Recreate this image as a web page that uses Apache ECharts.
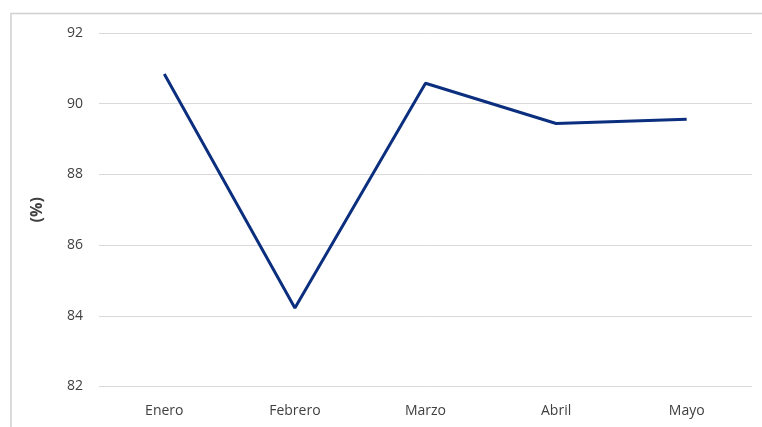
<!DOCTYPE html>
<html>
<head>
<meta charset="utf-8">
<script src="https://cdn.jsdelivr.net/npm/echarts@6/dist/echarts.min.js"></script>
<style>
  html, body { margin: 0; padding: 0; background: #fff; }
  #chart { width: 762px; height: 427px; }
</style>
</head>
<body>
<div id="chart"></div>
<script>
// Monthly percentage, January to May
const months = ['Enero', 'Febrero', 'Marzo', 'Abril', 'Mayo'];
const percentValues = [90.84, 84.22, 90.58, 89.44, 89.56];
const yTicks = { min: 82, max: 92, step: 2 };

const chart = echarts.init(document.getElementById('chart'), null, { renderer: 'canvas' });

const textFont = 'Open Sans, Noto Sans, sans-serif';

chart.setOption({
  animation: false,
  backgroundColor: '#ffffff',
  graphic: [{
    type: 'rect',
    left: 8.5, top: 11,
    shape: { width: 770, height: 440 },
    style: { fill: 'none', stroke: '#d0d0d0', lineWidth: 1.5 },
    silent: true
  }],
  grid: { left: 99, right: 10, top: 33, bottom: 40.5, containLabel: false },
  xAxis: {
    type: 'category',
    data: months,
    boundaryGap: true,
    axisLine: { show: false },
    axisTick: { show: false },
    axisLabel: { color: '#404040', fontSize: 14, fontFamily: textFont, margin: 18 }
  },
  yAxis: {
    type: 'value',
    min: yTicks.min,
    max: yTicks.max,
    interval: yTicks.step,
    name: '(%)',
    nameLocation: 'middle',
    nameRotate: 90,
    nameGap: 54,
    nameTextStyle: { color: '#404040', fontSize: 16, fontWeight: 'bold', fontFamily: textFont },
    axisLine: { show: false },
    axisTick: { show: false },
    axisLabel: { color: '#404040', fontSize: 14, fontFamily: textFont, margin: 16 },
    splitLine: { lineStyle: { color: '#d9d9d9', width: 1 } }
  },
  series: [{
    type: 'line',
    data: percentValues,
    symbol: 'none',
    lineStyle: { color: '#0b2f7e', width: 3 },
    itemStyle: { color: '#0b2f7e' }
  }]
});
</script>
</body>
</html>
